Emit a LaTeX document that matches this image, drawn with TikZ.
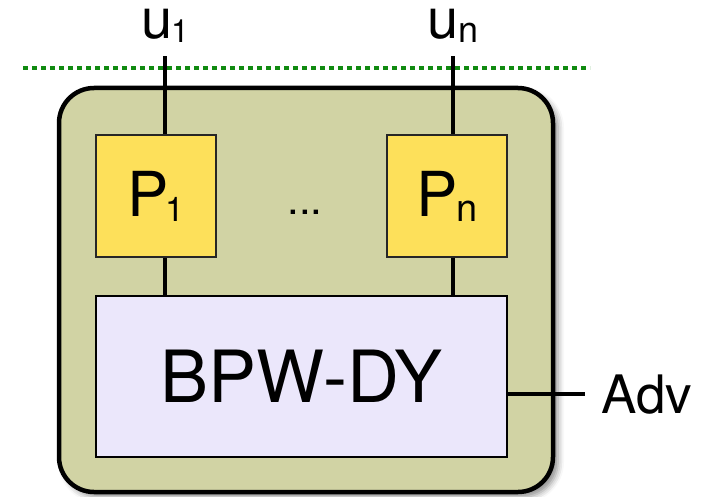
\documentclass[tikz,border=0pt]{standalone}
\usepackage{fontspec}
\setmainfont{TeX Gyre Heros}
\usepackage{tikz}
\usetikzlibrary{positioning,shadows.blur}
\definecolor{shellfill}{RGB}{209,211,164}
\definecolor{partyfill}{RGB}{253,224,90}
\definecolor{corefill}{RGB}{235,231,251}
\definecolor{cutgreen}{RGB}{16,138,16}
\newcommand{\sz}[1]{\fontsize{#1}{#1}\selectfont}
\tikzset{
  shellbox/.style={draw=black, rounded corners=35pt, line width=4.5pt, fill=shellfill, minimum width=494pt, minimum height=404pt,
    blur shadow={shadow xshift=5pt, shadow yshift=-5pt, shadow blur radius=6pt, shadow opacity=45}},
  partybox/.style={draw=black!85, line width=1.5pt, fill=partyfill, minimum width=120pt, minimum height=122pt, inner sep=0pt},
  corebox/.style={draw=black, line width=1.5pt, fill=corefill, minimum width=411pt, minimum height=161pt, inner sep=0pt},
  wire/.style={line width=3.5pt},
  cutline/.style={cutgreen, line width=4.5pt, dash pattern=on 5pt off 4pt},
  lbl/.style={inner sep=0pt, anchor=base}
}

\begin{document}
\begin{tikzpicture}[x=1pt, y=-1pt]
  \useasboundingbox (0,0) rectangle (706,497);
  \node[shellbox] (shell) at (306,290) {};

  \node[lbl] (u1) at (165,39) {\sz{56}u\kern-1pt\raisebox{-4pt}{\sz{32}1}};
  \node[lbl] (un) at (453,39) {\sz{56}u\kern-1pt\raisebox{-4pt}{\sz{36}n}};
  \node[partybox] (p1) at (156,196) {\sz{62}P\kern-3pt\raisebox{-5pt}{\sz{34}1}};
  \node[partybox] (pn) at (447,196) {\sz{62}P\kern-2pt\raisebox{-5pt}{\sz{38}n}};
  \node[inner sep=0pt] (dots) at (305,212) {\sz{42}...};
  \node[corebox] (core) at (301.5,376.5) {\sz{72}BPW-DY};
  \node[lbl, anchor=base west] (adv) at (601,413) {\sz{53}Adv};

  \draw[wire, shorten <=13pt] (u1.south) -- (u1.south |- p1.north);
  \draw[wire, shorten <=13pt] (un.south) -- (un.south |- pn.north);
  \draw[wire] (u1.south |- p1.south) -- (u1.south |- core.north);
  \draw[wire] (un.south |- pn.south) -- (un.south |- core.north);
  \draw[wire, shorten >=16pt] (adv.west -| core.east) -- (adv.west);

  \coordinate (cut west) at (23,68);
  \coordinate (cut east) at (590,68);
  \draw[cutline] (cut west) -- (cut east);
\end{tikzpicture}
\end{document}
